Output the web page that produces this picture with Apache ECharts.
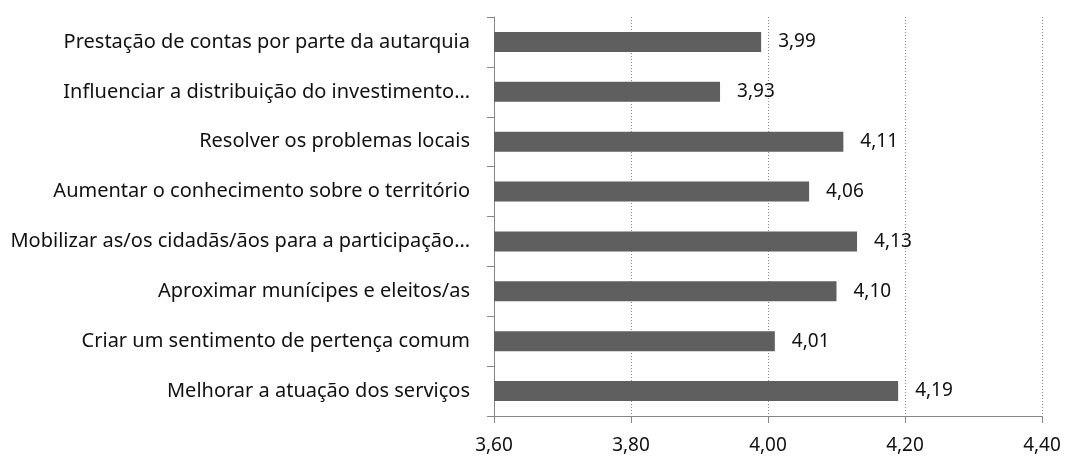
<!DOCTYPE html>
<html>
<head>
<meta charset="utf-8">
<script src="https://cdn.jsdelivr.net/npm/echarts@6/dist/echarts.min.js"></script>
<style>
html,body{margin:0;padding:0;background:#fff;}
#part1{width:1065px;height:459px;}
</style>
</head>
<body>
<div id="part1"></div>
<script>
// categories, top to bottom
var name_array = [
	'Prestação de contas por parte da autarquia',
	'Influenciar a distribuição do investimento…',
	'Resolver os problemas locais',
	'Aumentar o conhecimento sobre o território',
	'Mobilizar as/os cidadãs/ãos para a participação…',
	'Aproximar munícipes e eleitos/as',
	'Criar um sentimento de pertença comum',
	'Melhorar a atuação dos serviços'
];
var value_array = [3.99, 3.93, 4.11, 4.06, 4.13, 4.10, 4.01, 4.19];
var tick_min = 3.6, tick_max = 4.4, tick_step = 0.2;

function fmt(v){
	return Number(v).toFixed(2).replace('.', ',');
}

var myChart = echarts.init(document.getElementById('part1'));

var option = {
	animation: false,
	textStyle: { fontFamily: 'Noto Sans' },
	grid: { left: 494, right: 23, top: 17, bottom: 43 },
	xAxis: {
		type: 'value',
		min: tick_min,
		max: tick_max,
		interval: tick_step,
		axisLine: { show: true, lineStyle: { color: '#868686' } },
		axisTick: { show: true, length: 7, lineStyle: { color: '#868686' } },
		axisLabel: { formatter: fmt, color: '#111', fontSize: 19, margin: 20 },
		splitLine: { show: true, lineStyle: { color: '#8a8a8a', type: [1, 2], width: 1 } }
	},
	yAxis: {
		type: 'category',
		inverse: true,
		data: name_array,
		axisLine: { show: true, lineStyle: { color: '#868686' } },
		axisTick: { show: true, length: 7, lineStyle: { color: '#868686' } },
		axisLabel: { color: '#111', fontSize: 20, margin: 24 },
		splitLine: { show: false }
	},
	series: [{
		type: 'bar',
		data: value_array,
		barWidth: 20,
		itemStyle: { color: '#5f5f5f' },
		label: {
			show: true,
			position: 'right',
			distance: 17,
			formatter: function(p){ return fmt(p.value); },
			color: '#111',
			fontSize: 19
		}
	}]
};

myChart.setOption(option);
</script>
</body>
</html>
